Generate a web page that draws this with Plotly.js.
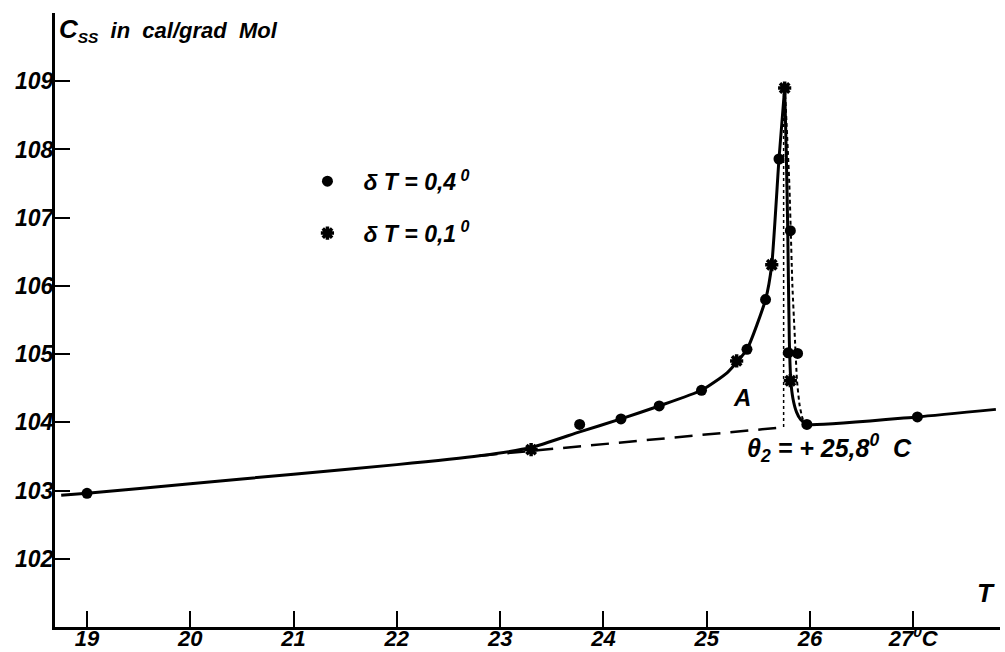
<!DOCTYPE html>
<html>
<head>
<meta charset="utf-8">
<script src="https://cdn.plot.ly/plotly-3.0.1.min.js"></script>
<style>html,body{margin:0;padding:0;background:#fff}#chart{width:1005px;height:652px}</style>
</head>
<body>
<div id="chart"></div>
<script>
// Measured points, δT = 0,4°
var dotsT = [19.0, 23.77, 24.17, 24.54, 24.95, 25.39, 25.57, 25.70, 25.81, 25.79, 25.88, 25.97, 27.04];
var dotsC = [102.96, 103.97, 104.05, 104.24, 104.47, 105.07, 105.80, 107.86, 106.81, 105.02, 105.01, 103.97, 104.08];
// Measured points, δT = 0,1°
var starsT = [23.30, 25.29, 25.63, 25.755, 25.81];
var starsC = [103.60, 104.90, 106.31, 108.90, 104.61];
// Solid curve (left branch up to peak)
var riseT = [18.75, 19.0, 20.0, 21.0, 22.0, 22.8, 23.3, 23.77, 24.17, 24.54, 24.95, 25.2, 25.39, 25.57, 25.63, 25.70, 25.755];
var riseC = [102.93, 102.96, 103.10, 103.24, 103.38, 103.51, 103.63, 103.86, 104.05, 104.24, 104.47, 104.73, 105.07, 105.80, 106.31, 107.86, 108.90];
// Solid curve (right branch down from peak and baseline)
var fallT = [25.755, 25.77, 25.785, 25.80, 25.815, 25.835, 25.87, 25.91, 25.97, 27.04, 27.80];
var fallC = [108.90, 108.00, 106.80, 105.20, 104.60, 104.35, 104.15, 104.04, 103.97, 104.08, 104.19];
// Dashed descending branch
var dashFallT = [25.76, 25.80, 25.83, 25.855, 25.875, 25.90, 25.93, 25.97];
var dashFallC = [108.80, 107.50, 106.00, 105.20, 104.60, 104.25, 104.05, 103.97];
// Dashed baseline extension
var baseT = [22.8, 23.3, 24.0, 25.0, 25.76];
var baseC = [103.51, 103.58, 103.68, 103.82, 103.93];
// Dotted vertical at transition
var vertT = [25.745, 25.745];
var vertC = [103.93, 108.90];
// Axis ticks
var xTicks = [19, 20, 21, 22, 23, 24, 25, 26, 27];
var xTickText = ['19', '20', '21', '22', '23', '24', '25', '26', '27<sup>0</sup>C'];
var yTicks = [102, 103, 104, 105, 106, 107, 108, 109];
var yTickText = ['102', '103', '104', '105', '106', '107', '108', '109'];

var FONT = 'Liberation Sans, Arial, sans-serif';
function bi(s) { return '<b><i>' + s + '</i></b>'; }

var traces = [
  {x: riseT, y: riseC, mode: 'lines', line: {color: '#000', width: 3, shape: 'spline', smoothing: 0.5}, showlegend: false, hoverinfo: 'skip'},
  {x: fallT, y: fallC, mode: 'lines', line: {color: '#000', width: 3, shape: 'spline', smoothing: 0.5}, showlegend: false, hoverinfo: 'skip'},
  {x: dashFallT, y: dashFallC, mode: 'lines', line: {color: '#000', width: 2, dash: '4px,3px', shape: 'spline', smoothing: 0.5}, showlegend: false, hoverinfo: 'skip'},
  {x: baseT, y: baseC, mode: 'lines', line: {color: '#000', width: 2.5, dash: '18px,10px'}, showlegend: false, hoverinfo: 'skip'},
  {x: vertT, y: vertC, mode: 'lines', line: {color: '#000', width: 1.5, dash: 'dot'}, showlegend: false, hoverinfo: 'skip'},
  {x: dotsT, y: dotsC, mode: 'markers', name: bi('δ T = 0,4<sup> 0</sup>'), legendgroup: 'a',
   marker: {symbol: 'circle', size: 11, color: '#000'}},
  {x: starsT, y: starsC, mode: 'markers', name: bi('δ T = 0,1<sup> 0</sup>'), legendgroup: 'b',
   marker: {symbol: 'asterisk', size: 11, color: '#000', line: {color: '#000', width: 3.5}}}
];

var layout = {
  width: 1005, height: 652,
  margin: {l: 55, r: 5, t: 13, b: 25},
  paper_bgcolor: '#fff', plot_bgcolor: '#fff',
  font: {family: FONT, size: 23, color: '#000'},
  showlegend: true,
  legend: {x: 0.2502, y: 0.761, xanchor: 'left', yanchor: 'top', bgcolor: 'rgba(0,0,0,0)',
           font: {family: FONT, size: 23, color: '#000'}, itemwidth: 62,
           traceorder: 'grouped', tracegroupgap: 19},
  xaxis: {range: [18.69, 27.84], showgrid: false, zeroline: false, showline: true, linecolor: '#000', linewidth: 3,
          ticks: 'inside', ticklen: 16, tickwidth: 2, tickcolor: '#000', ticklabelstandoff: -10,
          tickvals: xTicks, ticktext: xTickText.map(bi), tickfont: {family: FONT, size: 22}},
  yaxis: {range: [101.0, 110.0], showgrid: false, zeroline: false, showline: true, linecolor: '#000', linewidth: 3,
          ticks: 'inside', ticklen: 15, tickwidth: 2, tickcolor: '#000', ticklabelstandoff: -6,
          tickvals: yTicks, ticktext: yTickText.map(bi), tickfont: {family: FONT, size: 23}},
  annotations: [
    {xref: 'paper', yref: 'paper', x: 0, xshift: 2, y: 1.002, xanchor: 'left', yanchor: 'top', showarrow: false,
     text: bi('<span style="font-size:26px">C</span><sub>SS</sub>  in  cal/grad  Mol'), font: {family: FONT, size: 22}},
    {xref: 'paper', yref: 'paper', x: 0.985, y: 0.028, xanchor: 'center', yanchor: 'bottom', showarrow: false,
     text: bi('T'), font: {family: FONT, size: 26}},
    {x: 25.34, y: 104.37, xref: 'x', yref: 'y', showarrow: false, text: bi('A'), font: {family: FONT, size: 24}},
    {x: 26.19, y: 103.62, xref: 'x', yref: 'y', showarrow: false,
     text: bi('θ<sub>2</sub> = + 25,8<sup>0</sup>  C'), font: {family: FONT, size: 25}}
  ]
};

Plotly.newPlot('chart', traces, layout, {displayModeBar: false, staticPlot: true});
</script>
</body>
</html>
